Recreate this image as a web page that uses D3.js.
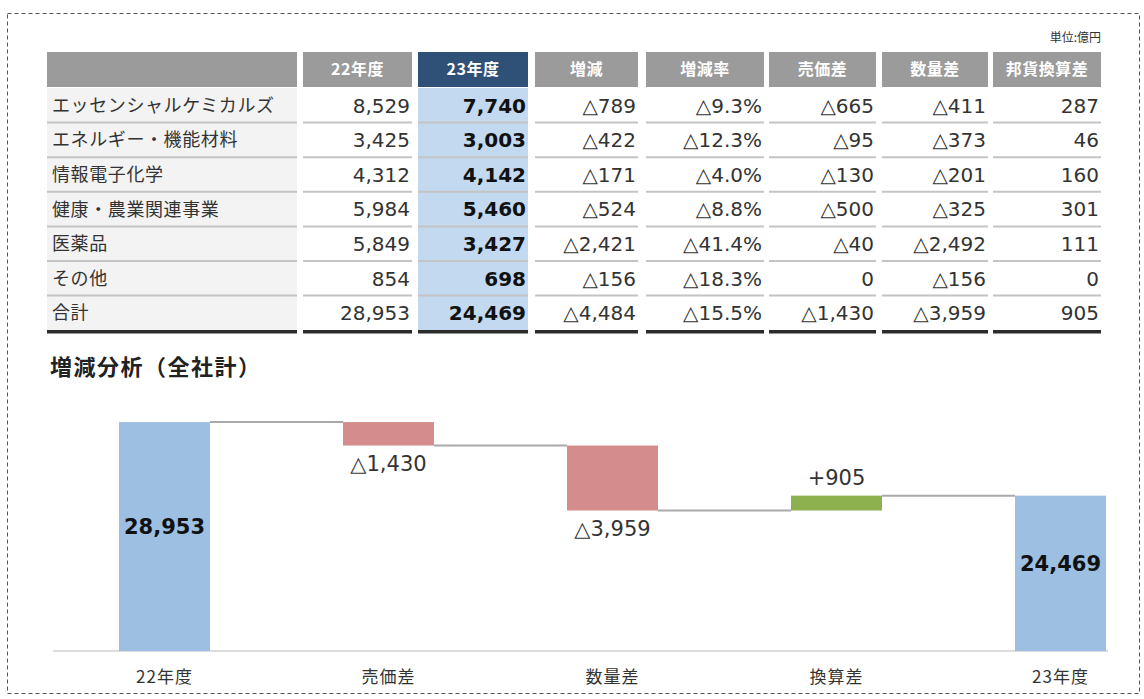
<!DOCTYPE html>
<html lang="ja">
<head>
<meta charset="utf-8">
<script src="https://cdn.jsdelivr.net/npm/d3@7"></script>
<style>
  html, body { margin: 0; padding: 0; background: #fff; }
  svg { display: block; font-family: "DejaVu Sans", "Noto Sans CJK JP", sans-serif; }
</style>
</head>
<body>
<div id="chart"></div>
<script>
// Table data (単位:億円)
const headers = ['', '22年度', '23年度', '増減', '増減率', '売価差', '数量差', '邦貨換算差'];
const segments = ['エッセンシャルケミカルズ', 'エネルギー・機能材料', '情報電子化学', '健康・農業関連事業', '医薬品', 'その他', '合計'];
const fy22 = [8529, 3425, 4312, 5984, 5849, 854, 28953];
const fy23 = [7740, 3003, 4142, 5460, 3427, 698, 24469];
const change = [-789, -422, -171, -524, -2421, -156, -4484];
const changeRate = [-9.3, -12.3, -4.0, -8.8, -41.4, -18.3, -15.5];
const priceDiff = [-665, -95, -130, -500, -40, 0, -1430];
const volumeDiff = [-411, -373, -201, -325, -2492, -156, -3959];
const fxDiff = [287, 46, 160, 301, 111, 0, 905];

// Waterfall data
const bridgeLabels = ['22年度', '売価差', '数量差', '換算差', '23年度'];
const bridgeValues = [28953, -1430, -3959, 905, 24469];
const bridgeTypes = ['total', 'delta', 'delta', 'delta', 'total'];

const W = 1144, H = 699;
const JP = '"Noto Sans CJK JP", sans-serif';
const svg = d3.select('#chart').append('svg').attr('width', W).attr('height', H);

// dashed frame
svg.append('rect')
  .attr('x', 7.5).attr('y', 13.5).attr('width', 1132).attr('height', 680)
  .attr('fill', 'none').attr('stroke', '#555').attr('stroke-width', 1)
  .attr('stroke-dasharray', '4,3');

// ---- table ----
const fmt = d3.format(',');
const fmtNum = v => v < 0 ? '△' + fmt(-v) : fmt(v);
const fmtPct = v => v < 0 ? '△' + (-v).toFixed(1) + '%' : v.toFixed(1) + '%';

const colLeft = [47, 303, 418, 535, 646, 769, 882, 993];
const colRight = [297, 412, 528, 638, 764, 876, 988, 1101];
const headTop = 52, headH = 35, bodyTop = 88, rowH = 34.6;

const columns = [
  segments,
  fy22.map(fmtNum),
  fy23.map(fmtNum),
  change.map(fmtNum),
  changeRate.map(fmtPct),
  priceDiff.map(fmtNum),
  volumeDiff.map(fmtNum),
  fxDiff.map(fmtNum)
];

const table = svg.append('g');

table.append('text')
  .attr('x', colRight[7]).attr('y', 42)
  .attr('text-anchor', 'end')
  .style('font-family', JP)
  .style('font-size', '12px').style('fill', '#333')
  .text('単位:億円');

// header cells
table.selectAll('.head')
  .data(headers)
  .enter().append('rect')
  .attr('x', (d, i) => colLeft[i])
  .attr('y', headTop)
  .attr('width', (d, i) => colRight[i] - colLeft[i])
  .attr('height', headH)
  .attr('fill', (d, i) => i === 2 ? '#2f5177' : '#9b9b9b');

table.selectAll('.headText')
  .data(headers)
  .enter().append('text')
  .attr('x', (d, i) => (colLeft[i] + colRight[i]) / 2)
  .attr('y', headTop + headH / 2)
  .attr('dy', '0.35em')
  .attr('text-anchor', 'middle')
  .style('font-family', JP)
  .style('font-size', '16px').style('font-weight', 'bold').style('fill', '#fff')
  .style('letter-spacing', '0.5px')
  .text(d => d);

const bodyH = rowH * segments.length;
// background fills
table.append('rect')
  .attr('x', colLeft[0]).attr('y', bodyTop)
  .attr('width', colRight[0] - colLeft[0]).attr('height', bodyH)
  .attr('fill', '#f3f3f3');
table.append('rect')
  .attr('x', colLeft[2]).attr('y', bodyTop)
  .attr('width', colRight[2] - colLeft[2]).attr('height', bodyH)
  .attr('fill', '#c2d9ef');

// row separators
for (let r = 1; r < segments.length; r++) {
  colLeft.forEach((x0, c) => {
    table.append('line')
      .attr('x1', x0).attr('x2', colRight[c])
      .attr('y1', bodyTop + r * rowH).attr('y2', bodyTop + r * rowH)
      .attr('stroke', '#c4c4c4').attr('stroke-width', 2);
  });
}
// thick bottom rule
colLeft.forEach((x0, c) => {
  table.append('line')
    .attr('x1', x0).attr('x2', colRight[c])
    .attr('y1', bodyTop + bodyH + 1.5).attr('y2', bodyTop + bodyH + 1.5)
    .attr('stroke', '#2b2b2b').attr('stroke-width', 3.5);
});

// cell texts
columns.forEach((col, c) => {
  table.selectAll('.c' + c)
    .data(col)
    .enter().append('text')
    .attr('x', c === 0 ? colLeft[0] + 5 : colRight[c] - 2)
    .attr('y', (d, r) => bodyTop + r * rowH + rowH / 2)
    .attr('dy', '0.36em')
    .attr('text-anchor', c === 0 ? 'start' : 'end')
    .style('font-family', c === 0 ? JP : null)
    .style('letter-spacing', c === 0 ? '0.6px' : null)
    .style('font-size', c === 0 ? '18px' : '20px')
    .style('font-weight', c === 2 ? 'bold' : 'normal')
    .style('fill', c === 2 ? '#111' : '#333')
    .text(d => d);
});

// ---- waterfall ----
svg.append('text')
  .attr('x', 50).attr('y', 367)
  .attr('dy', '0.35em')
  .style('font-family', JP)
  .style('font-size', '22px').style('font-weight', 'bold').style('fill', '#222')
  .style('letter-spacing', '1.5px')
  .text('増減分析（全社計）');

const x = d3.scalePoint().domain(bridgeLabels).range([164.5, 1060.5]);
const barW = 91;
const y = d3.scaleLinear().domain([15000, 30000]).range([651, 404.9]);

let running = 0;
const steps = bridgeValues.map((v, i) => {
  let start, end;
  if (bridgeTypes[i] === 'total') { start = y.domain()[0]; end = v; running = v; }
  else { start = running; end = running + v; running = end; }
  return { label: bridgeLabels[i], value: v, type: bridgeTypes[i], start, end };
});

const wf = svg.append('g');

// axis baseline
wf.append('line')
  .attr('x1', 53).attr('x2', 1108)
  .attr('y1', y(15000)).attr('y2', y(15000))
  .attr('stroke', '#dcdcdc').attr('stroke-width', 2);

// connectors at the running total
steps.slice(0, -1).forEach((d, i) => {
  wf.append('line')
    .attr('x1', x(d.label) + barW / 2).attr('x2', x(steps[i + 1].label) - barW / 2)
    .attr('y1', y(d.end)).attr('y2', y(d.end))
    .attr('stroke', '#aaa').attr('stroke-width', 2);
});

const barColor = d => d.type === 'total' ? '#9cbfe2' : (d.value < 0 ? '#d48c8c' : '#8db14f');

wf.selectAll('.bar')
  .data(steps)
  .enter().append('rect')
  .attr('x', d => x(d.label) - barW / 2)
  .attr('y', d => y(Math.max(d.start, d.end)))
  .attr('width', barW)
  .attr('height', d => Math.abs(y(d.start) - y(d.end)))
  .attr('fill', barColor);

// value labels
wf.selectAll('.val')
  .data(steps)
  .enter().append('text')
  .attr('x', d => x(d.label))
  .attr('y', d => {
    if (d.type === 'total') return (y(d.end) + y(d.start)) / 2 - 10;
    if (d.value < 0) return y(d.end) + 18;
    return y(d.end) - 18;
  })
  .attr('dy', '0.35em')
  .attr('text-anchor', 'middle')
  .style('font-size', '21px')
  .style('font-weight', d => d.type === 'total' ? 'bold' : 'normal')
  .style('fill', d => d.type === 'total' ? '#111' : '#333')
  .text(d => d.type === 'total' ? fmt(d.value) : (d.value < 0 ? '△' + fmt(-d.value) : '+' + fmt(d.value)));

// category labels
wf.selectAll('.cat')
  .data(bridgeLabels)
  .enter().append('text')
  .attr('x', d => x(d))
  .attr('y', 677)
  .attr('dy', '0.35em')
  .attr('text-anchor', 'middle')
  .style('font-family', JP)
  .style('font-size', '17px').style('fill', '#333')
  .style('letter-spacing', '1px')
  .text(d => d);
</script>
</body>
</html>
